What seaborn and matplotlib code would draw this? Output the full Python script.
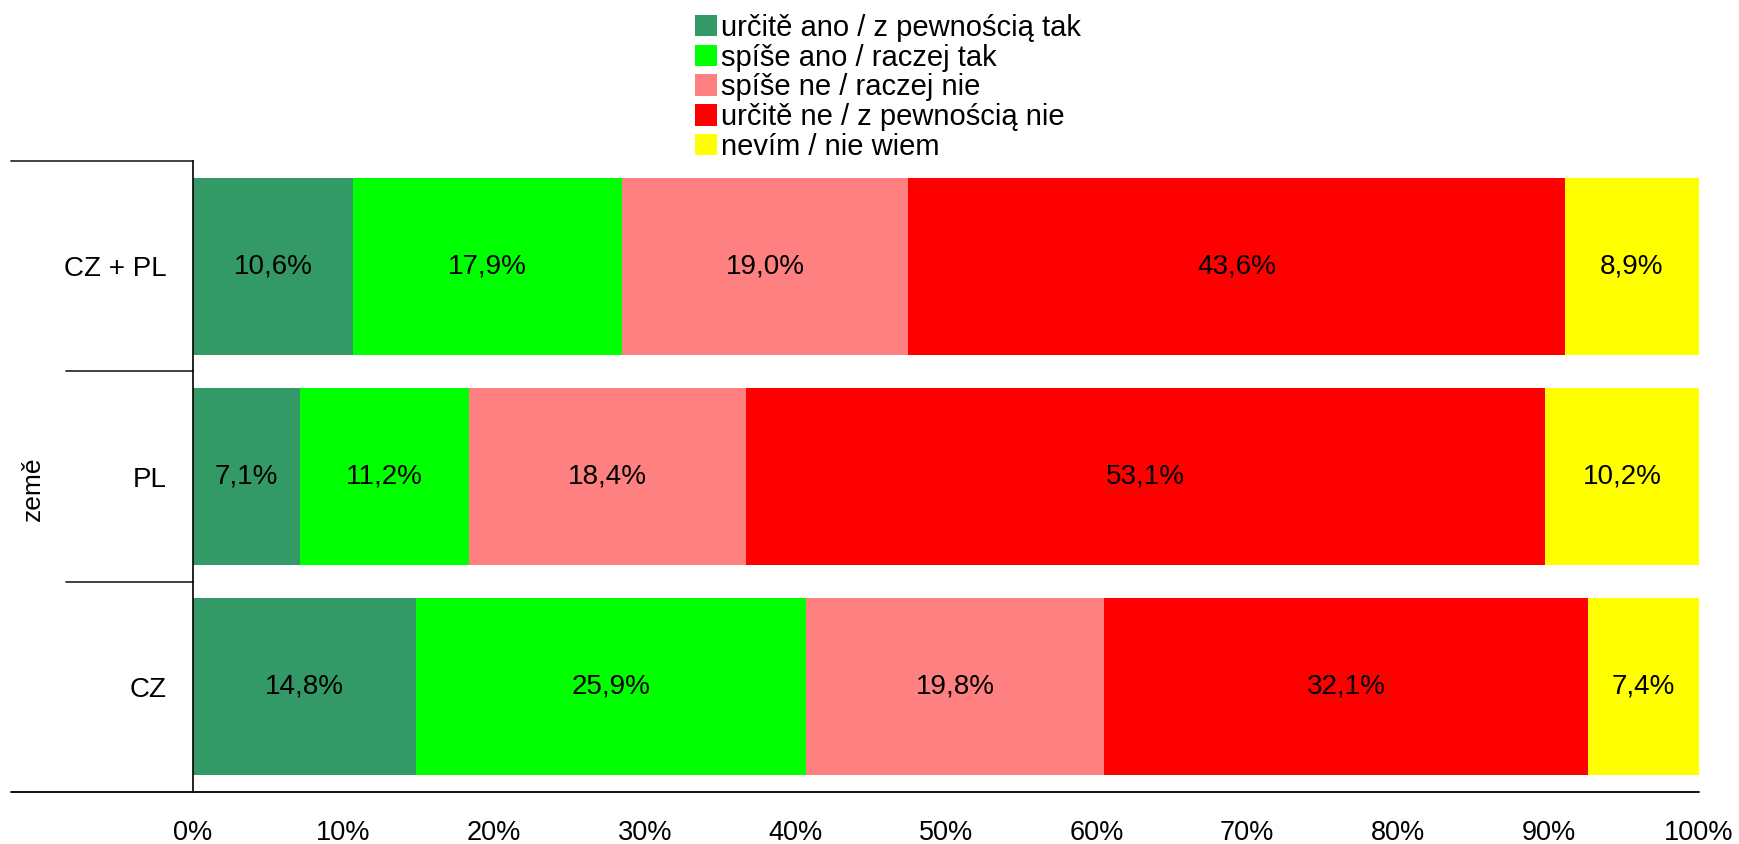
import matplotlib
matplotlib.use("Agg")
import matplotlib.pyplot as plt
import matplotlib.transforms as mtransforms
from matplotlib.patches import Patch
import seaborn as sns
import pandas as pd
import numpy as np

countries = ["CZ + PL", "PL", "CZ"]
answers = ["určitě ano / z pewnością tak", "spíše ano / raczej tak",
           "spíše ne / raczej nie", "určitě ne / z pewnością nie", "nevím / nie wiem"]
colors = ["#339966", "#00FF00", "#FF8080", "#FF0000", "#FFFF00"]
v_urcite_ano = [10.6, 7.1, 14.8]
v_spise_ano = [17.9, 11.2, 25.9]
v_spise_ne = [19.0, 18.4, 19.8]
v_urcite_ne = [43.6, 53.1, 32.1]
v_nevim = [8.9, 10.2, 7.4]
series = [v_urcite_ano, v_spise_ano, v_spise_ne, v_urcite_ne, v_nevim]

sns.set_style("white")
plt.rcParams['font.family'] = ['Liberation Sans', 'DejaVu Sans']
plt.rcParams['text.color'] = 'black'
plt.rcParams['axes.labelcolor'] = 'black'
plt.rcParams['xtick.color'] = 'black'
plt.rcParams['ytick.color'] = 'black'

fig = plt.figure(figsize=(17.39, 8.44), dpi=100)
ax = fig.add_axes([193/1739, 1-792/844, (1699-193)/1739, (792-161)/844])

vals = np.array(series)  # shape (5, 3)
cum = np.cumsum(vals, axis=0)
for i in range(len(answers) - 1, -1, -1):
    df = pd.DataFrame({"country": countries, "value": cum[i]})
    sns.barplot(data=df, y="country", x="value", order=countries, orient="h",
                color=colors[i], saturation=1, width=0.84, ax=ax, errorbar=None,
                linewidth=0)

starts = cum - vals
for i in range(len(answers)):
    for j in range(len(countries)):
        ax.text(starts[i, j] + vals[i, j] / 2, j,
                f"{vals[i, j]:.1f}%".replace(".", ","),
                ha="center", va="center", fontsize=20, color="black")

ax.set_xlim(0, 100)
ax.set_ylim(2.5, -0.5)
ax.set_xticks(np.arange(0, 101, 10))
ax.set_xticklabels([f"{t}%" for t in range(0, 101, 10)], fontsize=19.5)
ax.tick_params(axis="x", direction="out", length=7, width=1.2, color="#555555", pad=13)
ax.tick_params(axis="y", length=0, pad=19, labelsize=20)
ax.set_xlabel("")
ax.set_ylabel("země", fontsize=19)
ax.yaxis.set_label_coords(-0.0986, 0.48)

for s in ["top", "right"]:
    ax.spines[s].set_visible(False)
ax.spines["left"].set_color("black")
ax.spines["left"].set_linewidth(1.2)
ax.spines["bottom"].set_visible(False)

trans = mtransforms.blended_transform_factory(ax.transAxes, ax.transData)
ax.plot([-0.121, 1.0], [2.5, 2.5], color="black", lw=1.3, transform=trans, clip_on=False)
ax.plot([-0.121, 0.0], [-0.5, -0.5], color="#333333", lw=1.3, transform=trans, clip_on=False)
for yb in [0.5, 1.5]:
    ax.plot([-0.084, 0.0], [yb, yb], color="#333333", lw=1.3, transform=trans, clip_on=False)

handles = [Patch(facecolor=c, edgecolor="none") for c in colors]
fig.legend(handles, answers, loc="upper left", bbox_to_anchor=(689/1739, 1-8/844),
           frameon=False, fontsize=21, handlelength=0.75, handleheight=0.75,
           handletextpad=0.14, labelspacing=0.06, borderpad=0.2, borderaxespad=0)

fig.savefig("out.png", dpi=100, facecolor="white")
